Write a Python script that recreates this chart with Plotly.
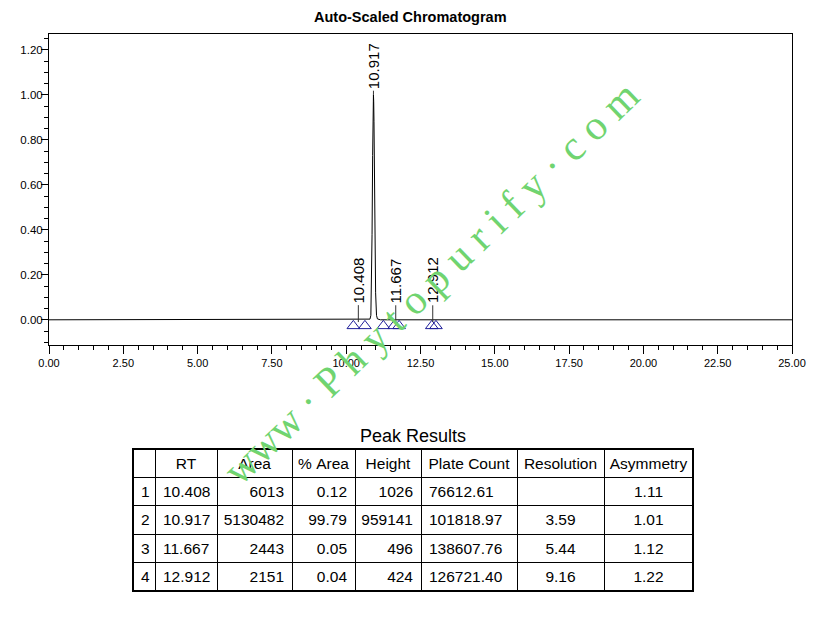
import plotly.graph_objects as go

# chromatogram trace (min, AU)
time_min = [0.0, 10.30, 10.38, 10.408, 10.44, 10.70, 10.80, 10.83, 10.85, 10.87, 10.89, 10.90,
            10.91, 10.917, 10.925, 10.935, 10.95, 10.97, 10.99, 11.02, 11.05, 11.15, 11.62,
            11.667, 11.71, 12.87, 12.912, 12.95, 25.0]
signal_au = [0.0, 0.0, 0.0006, 0.0011, 0.0005, 0.0, 0.003, 0.02, 0.14, 0.38, 0.73, 0.88,
             0.98, 1.00, 0.97, 0.88, 0.64, 0.32, 0.12, 0.02, 0.004, 0.0, 0.0,
             0.0005, 0.0, 0.0, 0.0004, 0.0, 0.0]

# integration start / end marks
mark_min = [10.24, 10.63, 11.25, 11.61, 11.78, 12.88, 13.02]
mark_au = [-0.027] * len(mark_min)

# peak table
peak_no = ["1", "2", "3", "4"]
rt = ["10.408", "10.917", "11.667", "12.912"]
area = ["6013", "5130482", "2443", "2151"]
pct_area = ["0.12", "99.79", "0.05", "0.04"]
height = ["1026", "959141", "496", "424"]
plate_count = ["76612.61", "101818.97", "138607.76", "126721.40"]
resolution = ["", "3.59", "5.44", "9.16"]
asymmetry = ["1.11", "1.01", "1.12", "1.22"]
peak_top = [0.0011, 1.00, 0.0005, 0.0004]

# page body has an 8px margin, so the figure sits at (8, 8) in the window
W, H = 824, 610
px = lambda x: (x - 8) / W
py = lambda y: 1 - (y - 8) / H
font = "Arial, Liberation Sans, sans-serif"
nb = lambda s: s.replace(" ", "\u00a0")

fig = go.Figure()

fig.add_trace(go.Scatter(x=time_min, y=signal_au, mode="lines",
                         line=dict(color="black", width=1), hoverinfo="skip"))
fig.add_trace(go.Scatter(x=mark_min, y=mark_au, mode="markers",
                         marker=dict(symbol="triangle-up-open", size=11,
                                     color="#1f1f9a", line=dict(width=1, color="#1f1f9a"))))

# label stems: from peak top up to the label
stem_x, stem_y = [], []
for i, t in enumerate(rt):
    lift = 0.018 if peak_top[i] > 0.5 else 0.064
    base = peak_top[i] if peak_top[i] > 0.5 else -0.01
    stem_x += [float(t), float(t), None]
    stem_y += [base, peak_top[i] + lift, None]
fig.add_trace(go.Scatter(x=stem_x, y=stem_y, mode="lines",
                         line=dict(color="#333333", width=1), hoverinfo="skip"))

for i, t in enumerate(rt):
    lift = 0.018 if peak_top[i] > 0.5 else 0.064
    fig.add_annotation(x=float(t), y=peak_top[i] + lift, text=t, textangle=-90,
                       showarrow=False, xanchor="center", yanchor="bottom",
                       font=dict(family=font, size=15, color="black"))

header = ["", "RT", "Area", "% Area", "Height", "Plate Count", "Resolution", "Asymmetry"]
fig.add_trace(go.Table(
    domain=dict(x=[px(133), px(693)], y=[py(591), py(449)]),
    columnwidth=[22, 62, 75, 63, 66, 96, 87, 89],
    header=dict(values=[nb(h) for h in header], align="center", height=28,
                line=dict(color="black", width=1), fill=dict(color="white"),
                font=dict(family=font, size=15.5, color="black")),
    cells=dict(values=[peak_no, rt, area, pct_area, height, plate_count, resolution, asymmetry],
               align=["left", "left", "right", "right", "right", "left", "center", "center"],
               height=28.5, line=dict(color="black", width=1), fill=dict(color="white"),
               font=dict(family=font, size=15.5, color="black")),
))

fig.add_annotation(xref="paper", yref="paper", x=px(410), y=py(17),
                   xanchor="center", yanchor="middle",
                   text="<b>Auto-Scaled Chromatogram</b>", showarrow=False,
                   font=dict(family=font, size=14.5, color="black"))
fig.add_annotation(xref="paper", yref="paper", x=px(413), y=py(436),
                   xanchor="center", yanchor="middle",
                   text="Peak Results", showarrow=False,
                   font=dict(family=font, size=18, color="black"))
fig.add_annotation(xref="paper", yref="paper", x=px(431), y=py(283),
                   xanchor="center", yanchor="middle",
                   text="www \u00b7 P h y t o p u r i f y \u00b7 c o m", showarrow=False, textangle=-44,
                   font=dict(family="Liberation Serif, Times New Roman, serif", size=42,
                             color="rgb(112,212,112)"))

# thick outer table border
fig.add_shape(type="rect", xref="paper", yref="paper", x0=px(133), x1=px(693),
              y0=py(591), y1=py(449), line=dict(color="black", width=2))

fig.update_xaxes(domain=[px(49), px(792)], range=[0, 25], dtick=2.5, tickformat=".2f",
                 showline=True, linecolor="black", linewidth=1, mirror=True, automargin=False,
                 ticks="outside", ticklen=8, tickcolor="black", showgrid=False, zeroline=False,
                 minor=dict(dtick=0.5, ticks="outside", ticklen=4, tickcolor="black"),
                 tickfont=dict(family=font, size=11, color="black"))
fig.update_yaxes(domain=[py(345), py(34)], range=[-0.112, 1.27], dtick=0.2, tickformat=".2f",
                 showline=True, linecolor="black", linewidth=1, mirror=True, automargin=False,
                 ticks="outside", ticklen=7, tickcolor="black", showgrid=False, zeroline=False,
                 ticklabelstandoff=-4,
                 minor=dict(dtick=0.05, ticks="outside", ticklen=4, tickcolor="black"),
                 tickfont=dict(family=font, size=11.5, color="black"))

fig.update_layout(width=W, height=H, margin=dict(l=0, r=0, t=0, b=0, autoexpand=False),
                  paper_bgcolor="white", plot_bgcolor="white", showlegend=False)

fig.write_html("out.html")
